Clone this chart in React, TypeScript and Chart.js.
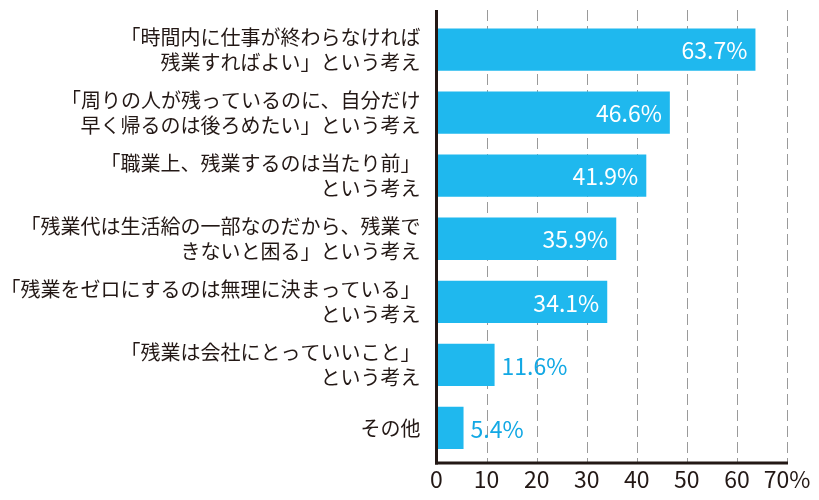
import React, { useEffect, useRef } from "react";
import { Chart, registerables } from "chart.js";

Chart.register(...registerables);

const categories: string[][] = [
  ["「時間内に仕事が終わらなければ", "残業すればよい」という考え"],
  ["「周りの人が残っているのに、自分だけ", "早く帰るのは後ろめたい」という考え"],
  ["「職業上、残業するのは当たり前」", "という考え"],
  ["「残業代は生活給の一部なのだから、残業で", "きないと困る」という考え"],
  ["「残業をゼロにするのは無理に決まっている」", "という考え"],
  ["「残業は会社にとっていいこと」", "という考え"],
  ["その他"],
];
const values: number[] = [63.7, 46.6, 41.9, 35.9, 34.1, 11.6, 5.4];
const tickValues: number[] = [0, 10, 20, 30, 40, 50, 60, 70];
const lastTickLabel = "70%";

const BAR = "#1fb8ee";
const LABEL_BLUE = "#12a8e4";
const INK = "#231815";
const FONT = "'Noto Sans CJK JP', 'Noto Sans', sans-serif";

const decorPlugin = {
  id: "decor",
  beforeDatasetsDraw(chart: any) {
    const { ctx } = chart;
    const xs = chart.scales.x;
    ctx.save();
    ctx.strokeStyle = "#9a9a9a";
    ctx.lineWidth = 1;
    ctx.setLineDash([11, 5]);
    tickValues.forEach((v) => {
      if (v === 0) return;
      const x = Math.round(xs.getPixelForValue(v)) + 0.5;
      ctx.beginPath();
      ctx.moveTo(x, 10);
      ctx.lineTo(x, 462);
      ctx.stroke();
    });
    ctx.restore();
  },
  afterDatasetsDraw(chart: any) {
    const { ctx } = chart;
    const xs = chart.scales.x;
    const x0 = xs.getPixelForValue(0);
    const x70 = xs.getPixelForValue(70);
    ctx.save();
    ctx.strokeStyle = INK;
    ctx.lineWidth = 3;
    ctx.beginPath();
    ctx.moveTo(x0, 10);
    ctx.lineTo(x0, 464.5);
    ctx.stroke();
    ctx.beginPath();
    ctx.moveTo(x0 - 1.5, 463);
    ctx.lineTo(x70 + 1, 463);
    ctx.stroke();

    const meta = chart.getDatasetMeta(0);
    ctx.font = `400 23px ${FONT}`;
    ctx.textBaseline = "middle";
    meta.data.forEach((bar: any, i: number) => {
      const v = values[i];
      const label = v.toFixed(1) + "%";
      if (v > 20) {
        ctx.fillStyle = "#ffffff";
        ctx.textAlign = "right";
        ctx.fillText(label, bar.x - 8, bar.y + 1);
      } else {
        ctx.fillStyle = LABEL_BLUE;
        ctx.textAlign = "left";
        ctx.fillText(label, bar.x + 7, bar.y + 1);
      }
    });
    ctx.restore();
  },
};

export default function App() {
  const ref = useRef<HTMLCanvasElement>(null);
  useEffect(() => {
    if (!ref.current) return;
    const chart = new Chart(ref.current, {
      type: "bar",
      data: {
        labels: categories,
        datasets: [
          {
            data: values,
            backgroundColor: BAR,
            borderWidth: 0,
            barPercentage: 0.67,
            categoryPercentage: 1,
          },
        ],
      },
      options: {
        indexAxis: "y",
        animation: false,
        responsive: false,
        layout: { padding: { top: 18, right: 32, bottom: 0, left: 0 } },
        plugins: { legend: { display: false }, tooltip: { enabled: false } },
        scales: {
          x: {
            type: "linear",
            min: 0,
            max: 70,
            afterBuildTicks: (scale: any) => {
              scale.ticks = tickValues.map((v) => ({ value: v }));
            },
            afterFit: (scale: any) => {
              scale.height = 40.5;
            },
            ticks: {
              color: INK,
              font: { family: FONT, size: 23, weight: 400 },
              padding: 6,
              maxRotation: 0,
              callback: (v: any) => (v === 70 ? lastTickLabel : String(v)),
            },
            grid: { display: false, drawTicks: false },
            border: { display: false },
          },
          y: {
            type: "category",
            afterFit: (scale: any) => {
              scale.width = 436.5;
              scale.paddingTop = 0;
              scale.paddingBottom = 0;
            },
            ticks: {
              color: INK,
              font: { family: FONT, size: 20, lineHeight: 1.24, weight: 400 },
              padding: 16,
            },
            grid: { display: false, drawTicks: false },
            border: { display: false },
          },
        },
      },
      plugins: [decorPlugin],
    });
    return () => chart.destroy();
  }, []);
  return (
    <div style={{ position: "absolute", left: 0, top: 0, width: 819, height: 500, background: "#fff" }}>
      <canvas ref={ref} width={819} height={500} style={{ display: "block" }} />
    </div>
  );
}
